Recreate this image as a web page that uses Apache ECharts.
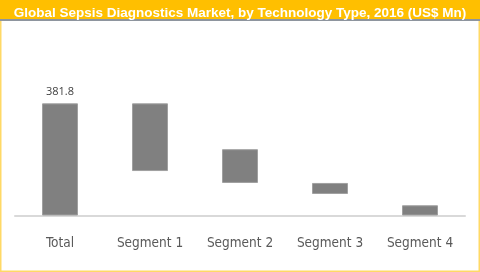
<!DOCTYPE html>
<html><head><meta charset="utf-8">
<script src="https://cdn.jsdelivr.net/npm/echarts@6/dist/echarts.min.js"></script>
<style>html,body{margin:0;padding:0;background:#fff}#c{width:480px;height:272px}</style>
</head><body><div id="c"></div>
<script>
var categories = ['Total', 'Segment 1', 'Segment 2', 'Segment 3', 'Segment 4'];
var baseValues = [0, 151.3, 110.8, 73.3, 0];
var barValues = [381.8, 230.5, 114.9, 37.5, 34.8];
var labelText = ['381.8', '', '', '', ''];
var titleText = 'Global Sepsis Diagnostics Market, by Technology Type, 2016 (US$ Mn)';

var chart = echarts.init(document.getElementById('c'), null, {renderer: 'canvas'});
chart.setOption({
  animation: false,
  backgroundColor: '#ffffff',
  graphic: [
    {type: 'rect', shape: {x: 0, y: 0, width: 480, height: 272}, style: {fill: '#fff', stroke: '#FFD966', lineWidth: 3}, z: -10},
    {type: 'rect', shape: {x: 0, y: 0, width: 480, height: 20}, style: {fill: '#FFBF00'}, z: -5},
    {type: 'rect', shape: {x: 0, y: 19, width: 480, height: 2}, style: {fill: '#8E959E'}, z: -4}
  ],
  title: {
    text: titleText, left: 'center', top: 1,
    textStyle: {color: '#ffffff', fontFamily: 'Liberation Sans, Arial, sans-serif', fontWeight: 'bold', fontSize: 13.5}
  },
  grid: {left: 15, right: 15, top: 98, bottom: 56.5},
  xAxis: {
    type: 'category', data: categories,
    axisLine: {lineStyle: {color: '#d9d9d9', width: 2}},
    axisTick: {show: false},
    axisLabel: {interval: 0, color: '#595959', fontSize: 13.5, margin: 21,
      fontFamily: '"Liberation Sans Narrow", "DejaVu Sans Condensed", sans-serif'}
  },
  yAxis: {type: 'value', min: 0, max: 400, show: false, splitLine: {show: false}},
  series: [
    {type: 'bar', stack: 'w', data: baseValues, barWidth: '40%', itemStyle: {color: 'transparent'}, silent: true},
    {type: 'bar', stack: 'w', data: barValues, barWidth: '40%',
      itemStyle: {color: '#808080', borderColor: '#a0a0a0', borderWidth: 1},
      label: {show: true, position: 'top', distance: 6, color: '#404040', fontSize: 11, fontFamily: 'Open Sans, sans-serif',
        formatter: function (p) { return labelText[p.dataIndex]; }}
    }
  ]
});
</script></body></html>
